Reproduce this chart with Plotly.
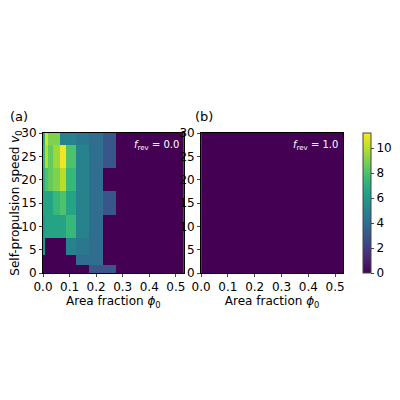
import plotly.graph_objects as go

phi_edges = [0, 0.009, 0.019, 0.0375, 0.0625, 0.0875, 0.125, 0.175, 0.225, 0.275, 0.53]
v_edges = [0, 1.8, 3.9, 7.5, 12.5, 17.5, 22.5, 27.5, 30]
# rows bottom to top
xi_a = [
    [0, 0, 0, 0, 0, 0, 0, 3, 3, 0],
    [0, 0, 0, 0, 0, 0, 4, 4, 0, 0],
    [6, 0, 0, 0, 0, 5, 4.5, 4, 0, 0],
    [6, 6.5, 6.5, 6.5, 6.5, 7.5, 5, 4, 0, 0],
    [6.5, 6.5, 6.5, 7.5, 8, 6.5, 5, 4, 3, 0],
    [7, 8, 8.5, 9, 10, 7.5, 5, 4, 0, 0],
    [7.5, 10, 8.5, 9.5, 11, 8, 5, 4, 3, 0],
    [7, 10.5, 9, 9, 5, 5, 4.5, 4, 3, 0],
]
xi_b = [[0]]
zmax = 11.2

fig = go.Figure()
fig.add_trace(go.Heatmap(x=phi_edges, y=v_edges, z=xi_a, colorscale="Viridis", zmin=0, zmax=zmax,
                         xaxis="x", yaxis="y",
                         colorbar=dict(x=1.0, xanchor="left", y=0.5, len=1.0, thickness=8, xpad=0, ypad=0,
                                       tickvals=[0, 2, 4, 6, 8, 10], outlinewidth=1, ticks="outside", ticklen=3,
                                       tickfont=dict(size=12),
                                       title=dict(text="Polarity correlation length <i>ξ</i><sub>p</sub>", side="right",
                                                  font=dict(size=12)))))
fig.add_trace(go.Heatmap(x=[0, 0.53], y=[0, 30], z=xi_b, colorscale="Viridis", zmin=0, zmax=zmax,
                         showscale=False, xaxis="x2", yaxis="y2"))

ax = dict(range=[0, 0.53], tickvals=[0, 0.1, 0.2, 0.3, 0.4, 0.5], ticktext=["0.0", "0.1", "0.2", "0.3", "0.4", "0.5"],
          ticks="outside", ticklen=3, showgrid=False, zeroline=False, showline=True, linecolor="black", mirror=True,
          tickfont=dict(size=12),
          title=dict(text="Area fraction <i>ϕ</i><sub>0</sub>", standoff=2, font=dict(size=12)))
ay = dict(range=[0, 30], tickvals=[0, 5, 10, 15, 20, 25, 30], ticks="outside", ticklen=3, showgrid=False,
          tickfont=dict(size=12),
          zeroline=False, showline=True, linecolor="black", mirror=True)
fig.update_layout(
    width=400, height=400, paper_bgcolor="white", plot_bgcolor="white",
    font=dict(family="DejaVu Sans", size=12, color="black"),
    margin=dict(l=35, r=45, t=125, b=135, autoexpand=False),
    xaxis=dict(ax, domain=[0, 0.44], anchor="y"),
    yaxis=dict(ay, domain=[0, 1], anchor="x",
               title=dict(text="Self-propulsion speed <i>v</i><sub>0</sub>", standoff=2, font=dict(size=12))),
    xaxis2=dict(ax, domain=[0.494, 0.938], anchor="y2"),
    yaxis2=dict(ay, domain=[0, 1], anchor="x2"),
    annotations=[
        dict(text="(a)", x=-0.11, y=1.05, xref="paper", yref="paper", showarrow=False, xanchor="left", yanchor="bottom", font=dict(size=13)),
        dict(text="(b)", x=0.47, y=1.05, xref="paper", yref="paper", showarrow=False, xanchor="left", yanchor="bottom", font=dict(size=13)),
        dict(text="<i>f</i><sub>rev</sub> = 0.0", x=0.43, y=0.97, xref="paper", yref="paper", showarrow=False, xanchor="right", yanchor="top", font=dict(size=10, color="white")),
        dict(text="<i>f</i><sub>rev</sub> = 1.0", x=0.928, y=0.97, xref="paper", yref="paper", showarrow=False, xanchor="right", yanchor="top", font=dict(size=10, color="white")),
    ],
)
fig.write_html("out.html")
